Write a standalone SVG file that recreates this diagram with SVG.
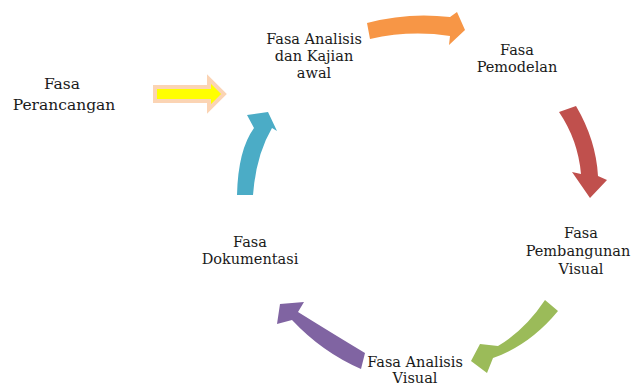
<svg xmlns="http://www.w3.org/2000/svg" width="631" height="386" viewBox="0 0 631 386">
<style>
text{font-family:'DejaVu Serif','Liberation Serif',serif;fill:#1a1a1a;text-anchor:middle}
.t{font-size:14.5px}
.tl{font-size:15.5px}
</style>
<rect width="631" height="386" fill="#ffffff"/>
<g id="connectors">
<path id="arrow-orange" d="M367,23 Q408,12 450,17 L457,12 L465,30 L449,45 L450,36 Q410,30 370,39 Z" fill="#F79646"/>
<path id="arrow-red" d="M559,112 L576,106 Q596,140 598,176 L607,180 L590,198 L572,172 L581,174 Q578,140 559,112 Z" fill="#C0504D"/>
<path id="arrow-green" d="M545,300 L558,311 Q530,345 493,358 L487,373 L471,361 L480,344 L498,346 Q525,330 545,300 Z" fill="#9BBB59"/>
<path id="arrow-purple" d="M280,304 L304,302 L298,312 Q335,335 365,353 L361,369 Q322,352 292,320 L277,324 Z" fill="#8064A2"/>
<path id="arrow-blue" d="M237,195 Q238,150 254,128 L247,115 L268,112 L277,131 L272,128 Q256,155 253,195 Z" fill="#4BACC6"/>
<path id="arrow-yellow" d="M155,87 L209,87 L209,79 L224,94 L209,109 L209,101 L155,101 Z" fill="#FFFF00" stroke="#FBD4B4" stroke-width="4" stroke-linejoin="miter"/>
</g>
<g id="node-analisis-kajian">
<text class="t" x="314" y="44">Fasa Analisis</text>
<text class="t" x="314" y="61">dan Kajian</text>
<text class="t" x="314" y="78">awal</text>
</g>
<g id="node-pemodelan">
<text class="t" x="517" y="55">Fasa</text>
<text class="t" x="517" y="72">Pemodelan</text>
</g>
<g id="node-pembangunan">
<text class="t" x="581" y="238">Fasa</text>
<text class="t" x="578" y="256" font-size="14">Pembangunan</text>
<text class="t" x="581" y="274">Visual</text>
</g>
<g id="node-analisis-visual">
<text class="t" x="415" y="367">Fasa Analisis</text>
<text class="t" x="415" y="383">Visual</text>
</g>
<g id="node-dokumentasi">
<text class="t" x="250" y="247">Fasa</text>
<text class="t" x="250" y="264">Dokumentasi</text>
</g>
<g id="node-perancangan">
<text class="tl" x="62" y="89">Fasa</text>
<text class="tl" x="64" y="110">Perancangan</text>
</g>
</svg>
